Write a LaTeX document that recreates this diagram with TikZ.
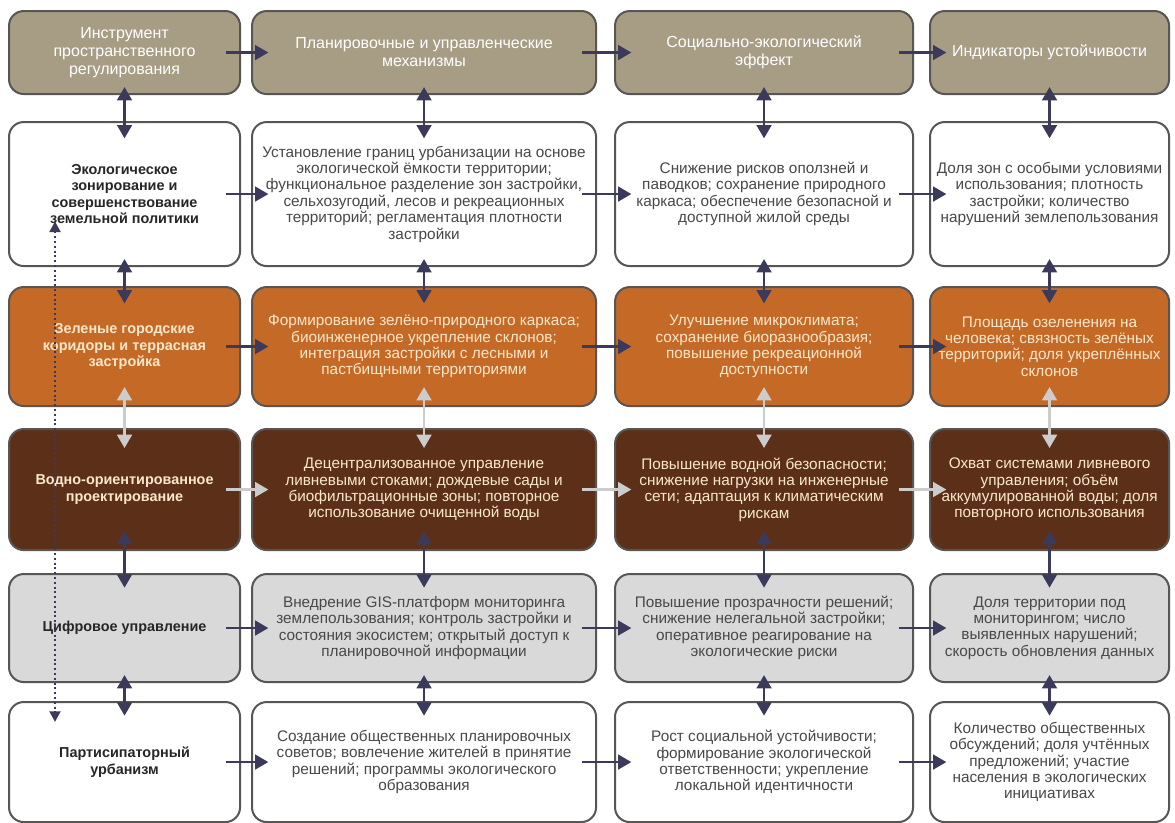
\documentclass[tikz,border=0pt]{standalone}
\usepackage{fontspec}
\setmainfont{Liberation Sans}
\usetikzlibrary{arrows.meta, positioning}

\definecolor{khaki}{RGB}{166,157,132}
\definecolor{rust}{RGB}{196,106,38}
\definecolor{umber}{RGB}{92,47,24}
\definecolor{ash}{RGB}{217,217,217}
\definecolor{edge}{RGB}{88,86,84}
\definecolor{ink}{RGB}{60,58,90}
\definecolor{pale}{RGB}{204,204,204}
\definecolor{cream}{RGB}{250,232,205}
\definecolor{txt}{RGB}{72,72,72}

\begin{document}
\begin{tikzpicture}[
  node distance=15.75pt and 7.5pt,
  cell/.style={draw=edge, line width=1.5pt, rounded corners=11pt, align=center,
               font=\fontsize{11.5}{12.3}\selectfont, inner sep=2pt},
  head/.style={cell, fill=khaki, text=white, font=\fontsize{12}{13.5}\selectfont,
               minimum height=62.25pt},
  plain/.style={cell, fill=white, text=txt},
  orng/.style={cell, fill=rust, text=cream},
  brwn/.style={cell, fill=umber, text=cream},
  grey/.style={cell, fill=ash, text=txt},
  lead/.style={font=\bfseries\fontsize{10.8}{12.3}\selectfont},
  leadk/.style={lead, text=black!85},
  w1/.style={minimum width=173.25pt}, w2/.style={minimum width=258pt},
  w3/.style={minimum width=223.5pt}, w4/.style={minimum width=179.25pt},
  r1/.style={minimum height=108pt}, r2/.style={minimum height=89.25pt},
  r3/.style={minimum height=90.75pt}, r4/.style={minimum height=81pt},
  r5/.style={minimum height=90pt},
  arr/.style={-{Triangle[length=10pt,width=11pt]}, line width=2pt, draw=ink},
  dbl/.style={{Triangle[length=10pt,width=11pt]}-{Triangle[length=10pt,width=11pt]},
              line width=2pt, draw=ink},
  lite/.style={draw=pale}
]
  \fill[white] (0,0) rectangle (881.25pt,-616.5pt);
  \useasboundingbox (0,0) rectangle (881.25pt,-616.5pt);

  % header row
  \node[head, w1] (head1) at (93.4pt,-39.4pt) {Инструмент\\пространственного\\регулирования};
  \node[head, w2, right=7.5pt of head1] (head2) {Планировочные и управленческие\\механизмы};
  \node[head, w3, right=12.75pt of head2] (head3) {Социально-экологический\\эффект};
  \node[head, w4, right=11.25pt of head3] (head4) {Индикаторы устойчивости};

  % zoning
  \node[plain, w1, r1, leadk, below=19.5pt of head1] (zon1) {Экологическое\\зонирование и\\совершенствование\\земельной политики};
  \node[plain, w2, r1, below=19.5pt of head2] (zon2) {Установление границ урбанизации на основе\\экологической ёмкости территории;\\функциональное разделение зон застройки,\\сельхозугодий, лесов и рекреационных\\территорий; регламентация плотности\\застройки};
  \node[plain, w3, r1, below=19.5pt of head3] (zon3) {Снижение рисков оползней и\\паводков; сохранение природного\\каркаса; обеспечение безопасной и\\доступной жилой среды};
  \node[plain, w4, r1, below=19.5pt of head4] (zon4) {Доля зон с особыми условиями\\использования; плотность\\застройки; количество\\нарушений землепользования};

  % green corridors
  \node[orng, w1, r2, lead, below=14.25pt of zon1] (grn1) {Зеленые городские\\коридоры и террасная\\застройка};
  \node[orng, w2, r2, below=14.25pt of zon2] (grn2) {Формирование зелёно-природного каркаса;\\биоинженерное укрепление склонов;\\интеграция застройки с лесными и\\пастбищными территориями};
  \node[orng, w3, r2, below=14.25pt of zon3] (grn3) {Улучшение микроклимата;\\сохранение биоразнообразия;\\повышение рекреационной\\доступности};
  \node[orng, w4, r2, below=14.25pt of zon4] (grn4) {Площадь озеленения на\\человека; связность зелёных\\территорий; доля укреплённых\\склонов};

  % water
  \node[brwn, w1, r3, lead, below=of grn1] (wat1) {Водно-ориентированное\\проектирование};
  \node[brwn, w2, r3, below=of grn2] (wat2) {Децентрализованное управление\\ливневыми стоками; дождевые сады и\\биофильтрационные зоны; повторное\\использование очищенной воды};
  \node[brwn, w3, r3, below=of grn3] (wat3) {Повышение водной безопасности;\\снижение нагрузки на инженерные\\сети; адаптация к климатическим\\рискам};
  \node[brwn, w4, r3, below=of grn4] (wat4) {Охват системами ливневого\\управления; объём\\аккумулированной воды; доля\\повторного использования};

  % digital
  \node[grey, w1, r4, leadk, below=16.5pt of wat1] (dig1) {Цифровое управление};
  \node[grey, w2, r4, below=16.5pt of wat2] (dig2) {Внедрение GIS-платформ мониторинга\\землепользования; контроль застройки и\\состояния экосистем; открытый доступ к\\планировочной информации};
  \node[grey, w3, r4, below=16.5pt of wat3] (dig3) {Повышение прозрачности решений;\\снижение нелегальной застройки;\\оперативное реагирование на\\экологические риски};
  \node[grey, w4, r4, below=16.5pt of wat4] (dig4) {Доля территории под\\мониторингом; число\\выявленных нарушений;\\скорость обновления данных};

  % participation
  \node[plain, w1, r5, leadk, below=13.5pt of dig1] (prt1) {Партисипаторный\\урбанизм};
  \node[plain, w2, r5, below=13.5pt of dig2] (prt2) {Создание общественных планировочных\\советов; вовлечение жителей в принятие\\решений; программы экологического\\образования};
  \node[plain, w3, r5, below=13.5pt of dig3] (prt3) {Рост социальной устойчивости;\\формирование экологической\\ответственности; укрепление\\локальной идентичности};
  \node[plain, w4, r5, below=13.5pt of dig4] (prt4) {Количество общественных\\обсуждений; доля учтённых\\предложений; участие\\населения в экологических\\инициативах};

  % left to right
  \draw[arr] ([xshift=-11pt]head1.east) -- ([xshift=13pt]head2.west);
  \draw[arr] ([xshift=-11pt]head2.east) -- ([xshift=13pt]head3.west);
  \draw[arr] ([xshift=-11pt]head3.east) -- ([xshift=13pt]head4.west);
  \draw[arr] ([xshift=-11pt]zon1.east) -- ([xshift=13pt]zon2.west);
  \draw[arr] ([xshift=-11pt]zon2.east) -- ([xshift=13pt]zon3.west);
  \draw[arr] ([xshift=-11pt]zon3.east) -- ([xshift=13pt]zon4.west);
  \draw[arr] ([xshift=-11pt]grn1.east) -- ([xshift=13pt]grn2.west);
  \draw[arr] ([xshift=-11pt]grn2.east) -- ([xshift=13pt]grn3.west);
  \draw[arr] ([xshift=-11pt]grn3.east) -- ([xshift=13pt]grn4.west);
  \draw[arr, lite] ([xshift=-11pt]wat1.east) -- ([xshift=13pt]wat2.west);
  \draw[arr, lite] ([xshift=-11pt]wat2.east) -- ([xshift=13pt]wat3.west);
  \draw[arr, lite] ([xshift=-11pt]wat3.east) -- ([xshift=13pt]wat4.west);
  \draw[arr] ([xshift=-11pt]dig1.east) -- ([xshift=13pt]dig2.west);
  \draw[arr] ([xshift=-11pt]dig2.east) -- ([xshift=13pt]dig3.west);
  \draw[arr] ([xshift=-11pt]dig3.east) -- ([xshift=13pt]dig4.west);
  \draw[arr] ([xshift=-11pt]prt1.east) -- ([xshift=13pt]prt2.west);
  \draw[arr] ([xshift=-11pt]prt2.east) -- ([xshift=13pt]prt3.west);
  \draw[arr] ([xshift=-11pt]prt3.east) -- ([xshift=13pt]prt4.west);

  % up and down
  \draw[dbl] ([yshift=6pt]head1.south) -- ([yshift=-13pt]zon1.north);
  \draw[dbl] ([yshift=6pt]head2.south) -- ([yshift=-13pt]zon2.north);
  \draw[dbl] ([yshift=6pt]head3.south) -- ([yshift=-13pt]zon3.north);
  \draw[dbl] ([yshift=6pt]head4.south) -- ([yshift=-13pt]zon4.north);
  \draw[dbl] ([yshift=6pt]zon1.south) -- ([yshift=-13pt]grn1.north);
  \draw[dbl] ([yshift=6pt]zon2.south) -- ([yshift=-13pt]grn2.north);
  \draw[dbl] ([yshift=6pt]zon3.south) -- ([yshift=-13pt]grn3.north);
  \draw[dbl] ([yshift=6pt]zon4.south) -- ([yshift=-13pt]grn4.north);
  \draw[dbl, lite] ([yshift=15pt]grn1.south) -- ([yshift=-15pt]wat1.north);
  \draw[dbl, lite] ([yshift=15pt]grn2.south) -- ([yshift=-15pt]wat2.north);
  \draw[dbl, lite] ([yshift=15pt]grn3.south) -- ([yshift=-15pt]wat3.north);
  \draw[dbl, lite] ([yshift=15pt]grn4.south) -- ([yshift=-15pt]wat4.north);
  \draw[dbl] ([yshift=15pt]wat1.south) -- ([yshift=-11pt]dig1.north);
  \draw[dbl] ([yshift=15pt]wat2.south) -- ([yshift=-11pt]dig2.north);
  \draw[dbl] ([yshift=15pt]wat3.south) -- ([yshift=-11pt]dig3.north);
  \draw[dbl] ([yshift=15pt]wat4.south) -- ([yshift=-11pt]dig4.north);
  \draw[dbl] ([yshift=6pt]dig1.south) -- ([yshift=-11pt]prt1.north);
  \draw[dbl] ([yshift=6pt]dig2.south) -- ([yshift=-11pt]prt2.north);
  \draw[dbl] ([yshift=6pt]dig3.south) -- ([yshift=-11pt]prt3.north);
  \draw[dbl] ([yshift=6pt]dig4.south) -- ([yshift=-11pt]prt4.north);

  % feedback from participation to zoning
  \coordinate (fbtop) at (41.25pt,-166pt);
  \coordinate (fbbot) at (41.25pt,-541.5pt);
  \draw[{Triangle[length=8pt,width=8pt]}-{Triangle[length=8pt,width=8pt]},
        line width=2pt, draw=ink, dash pattern=on 1.6pt off 2pt] (fbtop) -- (fbbot);
\end{tikzpicture}
\end{document}
